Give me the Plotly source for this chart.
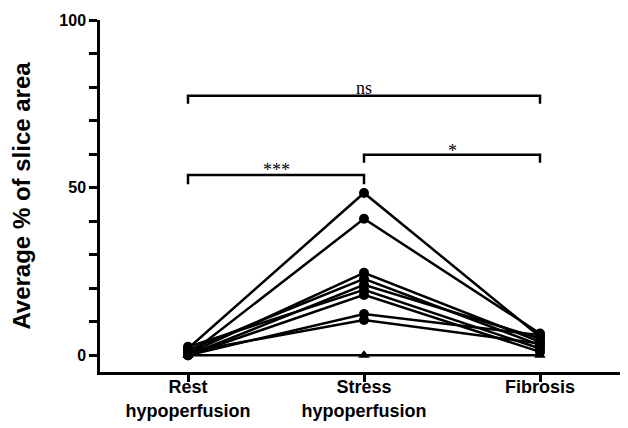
import plotly.graph_objects as go

categories = ["Rest<br>hypoperfusion", "Stress<br>hypoperfusion", "Fibrosis"]
x_pos = [0, 1, 2]

# each subject: [rest, stress, fibrosis]
subjects = [
    [2.0, 48.4, 5.5],
    [0.0, 40.7, 6.5],
    [0.5, 24.6, 4.0],
    [1.5, 22.8, 3.0],
    [0.0, 21.0, 5.0],
    [2.5, 19.5, 2.0],
    [0.0, 18.0, 1.0],
    [0.0, 12.3, 6.0],
    [1.0, 10.5, 3.5],
]
triangle_subject = [0.0, 0.0, 0.0]

# significance brackets: (x_start, x_end, y_bar, y_end, label, y_label)
brackets = [
    (0, 2, 77.4, 75.0, "ns", 79.8),
    (0, 1, 53.8, 51.0, "***", 55.4),
    (1, 2, 59.8, 57.4, "*", 61.0),
]

fig = go.Figure()
for s in subjects:
    fig.add_trace(go.Scatter(
        x=x_pos, y=s, mode="lines+markers",
        line=dict(color="black", width=2.5),
        marker=dict(color="black", size=10, symbol="circle"),
        showlegend=False, cliponaxis=False))
fig.add_trace(go.Scatter(
    x=x_pos, y=triangle_subject, mode="lines+markers",
    line=dict(color="black", width=2.5),
    marker=dict(color="black", size=10, symbol="triangle-up"),
    showlegend=False, cliponaxis=False))

for x0, x1, yb, ye, lab, yl in brackets:
    fig.add_shape(type="path",
                  path=f"M {x0} {ye} L {x0} {yb} L {x1} {yb} L {x1} {ye}",
                  xref="x", yref="y", line=dict(color="black", width=2.5))
    fig.add_annotation(x=(x0 + x1) / 2, y=yl, text=lab, showarrow=False,
                       xref="x", yref="y", yanchor="middle",
                       font=dict(family="Liberation Serif", size=18, color="#000000"))

# page body has an 8px default margin, so the figure is sized to fill the rest
fig.update_layout(
    width=620, height=420,
    margin=dict(l=92, r=0, t=12, b=56),
    plot_bgcolor="white", paper_bgcolor="white",
    font=dict(family="Liberation Sans", color="black"),
)
fig.update_xaxes(
    range=[-0.5, 2.5], tickvals=x_pos, ticktext=[f"<b>{c}</b>" for c in categories],
    showline=True, linecolor="black", linewidth=2.5,
    ticks="outside", ticklen=7, tickwidth=2.5, tickcolor="black",
    tickfont=dict(size=18, family="Liberation Sans"), ticklabelstandoff=-10,
    showgrid=False, zeroline=False, automargin=False,
)
fig.update_yaxes(
    range=[-5, 100], tickvals=[0, 50, 100], ticktext=["<b>0</b>", "<b>50</b>", "<b>100</b>"],
    showline=True, linecolor="black", linewidth=2.5,
    ticks="outside", ticklen=8, tickwidth=2.5, tickcolor="black",
    minor=dict(tickvals=[10, 20, 30, 40, 60, 70, 80, 90], ticks="outside", ticklen=8,
               tickwidth=2.5, tickcolor="black", showgrid=False),
    tickfont=dict(size=16, family="Liberation Sans"),
    title=dict(text="<b>Average % of slice area</b>", font=dict(size=24, family="Liberation Sans"),
               standoff=24),
    showgrid=False, zeroline=False, automargin=False,
)

fig.write_html("out.html")
